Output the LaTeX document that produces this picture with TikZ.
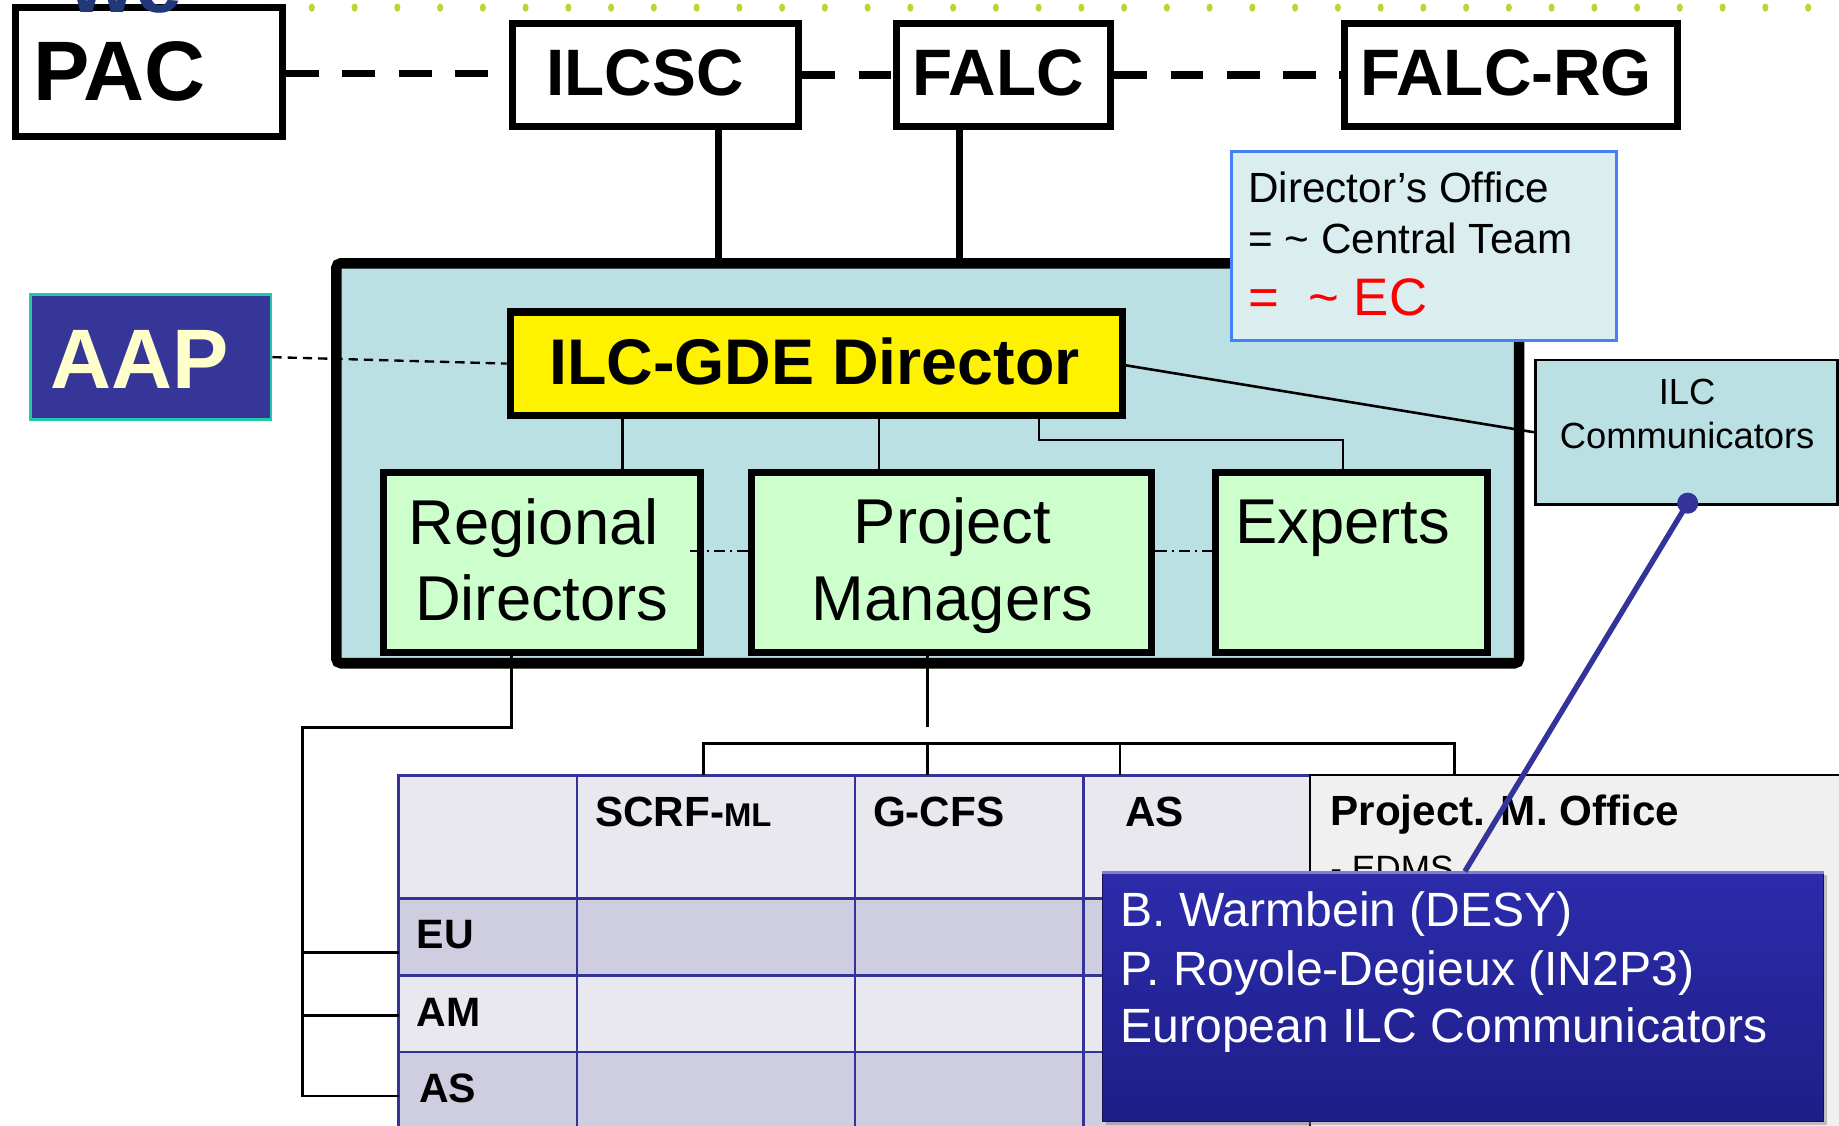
\documentclass[tikz,border=0pt]{standalone}
\usepackage{fontspec}
\setmainfont{Liberation Sans}
\usetikzlibrary{calc,shadows}
\definecolor{bigfill}{RGB}{186,224,227}
\definecolor{dofill}{RGB}{218,238,240}
\definecolor{doborder}{RGB}{70,128,245}
\definecolor{aapfill}{RGB}{54,54,153}
\definecolor{aapborder}{RGB}{34,201,166}
\definecolor{aaptext}{RGB}{255,255,204}
\definecolor{greenfill}{RGB}{204,255,204}
\definecolor{rowA}{RGB}{232,232,238}
\definecolor{rowB}{RGB}{207,205,224}
\definecolor{gridblue}{RGB}{51,51,153}
\definecolor{pmofill}{RGB}{240,240,240}
\definecolor{bluetop}{RGB}{44,44,172}
\definecolor{bluebot}{RGB}{30,30,136}
\definecolor{linkblue}{RGB}{51,51,153}
\definecolor{dotgreen}{RGB}{188,214,49}
\definecolor{titlenavy}{RGB}{32,56,120}
\definecolor{ecred}{RGB}{255,0,0}
\newcommand{\setfs}[1]{\fontsize{#1}{#1}\selectfont}
\begin{document}
\begin{tikzpicture}[x=0.5pt,y=-0.5pt,
  topbox/.style={draw=black,line width=3pt,fill=white,inner sep=0pt},
  topdash/.style={line width=3.2pt,dash pattern=on 14pt off 10pt},
  toptext/.style={font=\setfs{28}\bfseries,inner sep=0pt,anchor=base},
  greenbox/.style={draw=black,line width=3pt,fill=greenfill,inner sep=0pt},
  greentext/.style={font=\setfs{27},inner sep=0pt,anchor=base},
  conn/.style={line width=1.1pt},
  dashdot/.style={line width=0.9pt,dash pattern=on 5pt off 2pt on 1pt off 2pt},
  hdr/.style={font=\setfs{18}\bfseries,inner sep=0pt,anchor=base west},
  gridline/.style={draw=gridblue,line width=1.2pt},
  dotext/.style={font=\setfs{18},inner sep=0pt,anchor=base west},
  whitetext/.style={font=\setfs{20.5},text=white,inner sep=0pt,anchor=base west},
  comtext/.style={font=\setfs{15.5},inner sep=0pt,anchor=base}
]
\useasboundingbox (0,0) rectangle (1568,960);
\fill[white] (0,0) rectangle (1568,960);

% green dots
\foreach \i in {0,...,37}{
  \fill[dotgreen] ({193+36.45*\i},6.5) ellipse [x radius=1.3pt, y radius=1.75pt];
}

% top boxes
\node[topbox,minimum width=113.75pt,minimum height=55.25pt] (pac) at (127.25,61.25) {};
\node[topbox,minimum width=122pt,minimum height=44pt] (ilcsc) at (559,64) {};
\node[topbox,minimum width=91.5pt,minimum height=44pt] (falc) at (855.5,64) {};
\node[topbox,minimum width=141.75pt,minimum height=44pt] (falcrg) at (1288.25,64) {};
\node[font=\setfs{36}\bfseries,inner sep=0pt,anchor=base west] (pact) at (28.5,86) {PAC};
\node[toptext] (ilcsct) at (550,81) {ILCSC};
\node[toptext] (falct) at (851,81) {FALC};
\node[toptext] (falcrgt) at (1284,81) {FALC-RG};

\coordinate (ytop) at (0,62.5);
\draw[topdash] (pac.east |- ytop) -- (ilcsc.west |- ytop);
\draw[topdash] (ilcsc.east) -- (falc.west);
\draw[topdash] (falc.east) -- (falcrg.west);

% big box
\node[draw=black,line width=4.5pt,fill=bigfill,rounded corners=2pt,minimum width=504.25pt,minimum height=170.5pt,inner sep=0pt] (gde) at (791,395) {};
\coordinate (xa) at (612.5,0);
\coordinate (xb) at (818,0);
\draw[line width=3pt] (ilcsc.south -| xa) -- (gde.north -| xa);
\draw[line width=3pt] (falc.south -| xb) -- (gde.north -| xb);

% director's office
\node[draw=doborder,line width=1.3pt,fill=dofill,minimum width=164pt,minimum height=80.5pt,inner sep=0pt] (doff) at (1214,209.5) {};
\node[dotext] (do1) at (1064,173) {Director’s Office};
\node[dotext] (do2) at (1064,216) {= \textasciitilde{} Central Team};
\node[dotext,font=\setfs{22.5},text=ecred] (do3) at (1064,269) {=\ \ \textasciitilde\ EC};

% AAP
\node[draw=aapborder,line width=1.2pt,fill=aapfill,minimum width=102.5pt,minimum height=53.5pt,inner sep=0pt] (aap) at (128.5,304.5) {};
\node[font=\setfs{36}\bfseries,text=aaptext,inner sep=0pt,anchor=base] (aapt) at (119,331) {AAP};

% director
\node[draw=black,line width=3pt,fill=yellow,minimum width=261pt,minimum height=44pt,inner sep=0pt] (dir) at (696,310) {};
\node[toptext,font=\setfs{27.5}\bfseries] (dirt) at (694.5,328) {ILC-GDE Director};
\draw[line width=1pt,dash pattern=on 4pt off 2.5pt] (aap.east) -- (dir.west);

% green boxes
\node[greenbox,minimum width=135.25pt,minimum height=76.5pt] (reg) at (462.25,479.5) {};
\node[greenbox,minimum width=170.75pt,minimum height=76.5pt] (pm) at (811.25,479.5) {};
\node[greenbox,minimum width=115.75pt,minimum height=76.5pt] (exp) at (1152.25,479.5) {};
\node[greentext] (reg1) at (455,464) {Regional};
\node[greentext] (reg2) at (462,529) {Directors};
\node[greentext] (pm1) at (812,463) {Project};
\node[greentext] (pm2) at (812,529) {Managers};
\node[greentext] (exp1) at (1145,463) {Experts};

\coordinate (ydd) at (0,470);
\coordinate (dd1) at ([xshift=-6pt]reg.east);
\draw[dashdot] (dd1 |- ydd) -- (pm.west |- ydd);
\draw[dashdot] (pm.east |- ydd) -- (exp.west |- ydd);

\coordinate (xr0) at (531,0);
\coordinate (xp0) at (749.5,0);
\coordinate (e1) at (886,375);
\coordinate (e2) at (1145,375);
\draw[conn] (dir.south -| xr0) -- (reg.north -| xr0);
\draw[conn] (dir.south -| xp0) -- (pm.north -| xp0);
\draw[conn] (dir.south -| e1) -- (e1) -- (e2) -- (exp.north -| e2);

% ILC communicators
\node[draw=black,line width=1.2pt,fill=bigfill,minimum width=129pt,minimum height=61.5pt,inner sep=0pt] (ilccom) at (1438,368.5) {};
\node[comtext] (ilccom1) at (1438.5,344.5) {ILC};
\node[comtext] (ilccom2) at (1438.5,382) {Communicators};
\coordinate (dirr) at (957,311);
\draw[line width=1.1pt] (dirr) -- (ilccom.west);

% table
\fill[rowA] (340,661) rectangle (1117,766);
\fill[rowB] (340,766) rectangle (1117,831.5);
\fill[rowA] (340,831.5) rectangle (1117,897);
\fill[rowB] (340,897) rectangle (1117,970);
\draw[gridline] (340,970) -- (340,661) -- (1117,661);
\foreach \yy in {766,831.5,897}{\draw[gridline] (340,\yy) -- (1117,\yy);}
\foreach \xx in {492,729,924}{\draw[gridline] (\xx,661) -- (\xx,970);}
\draw[line width=1pt,fill=pmofill] (1117,975) -- (1117,661) -- (1580,661) -- (1580,975);

\node[hdr] (h1) at (507,705) {SCRF-{\setfs{14}ML}};
\node[hdr] (h2) at (744,705) {G-CFS};
\node[hdr] (h3) at (959,705) {AS};
\node[hdr] (h4) at (1134,704) {Project. M. Office};
\node[font=\setfs{15},inner sep=0pt,anchor=base west] (h5) at (1134,750.5) {- EDMS};
\node[hdr,font=\setfs{17.5}\bfseries] (r1) at (355,809) {EU};
\node[hdr,font=\setfs{17.5}\bfseries] (r2) at (355,875) {AM};
\node[hdr,font=\setfs{17.5}\bfseries] (r3) at (357,940) {AS};

% regional connectors
\coordinate (rbend) at (436,620.5);
\coordinate (rleft) at (258,620.5);
\coordinate (euin) at (340,812);
\coordinate (amin) at (340,866);
\coordinate (asin) at (340,934.5);
\draw[conn] (reg.south -| rbend) -- (rbend) -- (rleft) -- (rleft |- asin) -- (asin);
\draw[conn] (rleft |- euin) -- (euin);
\draw[conn] (rleft |- amin) -- (amin);

% project connectors
\coordinate (pbend) at (791,620);
\coordinate (ttop) at (0,661);
\coordinate (b1) at (600,634);
\coordinate (b2) at (791,634);
\coordinate (b3) at (955,634);
\coordinate (b4) at (1240,634);
\draw[conn] (pm.south -| pbend) -- (pbend);
\draw[conn] (b1 |- ttop) -- (b1) -- (b4) -- (b4 |- ttop);
\draw[conn] (b2) -- (b2 |- ttop);
\draw[conn] (b3) -- (b3 |- ttop);

% blue box
\node[top color=bluetop,bottom color=bluebot,draw=bluebot!60!black,line width=0.6pt,
      minimum width=307.5pt,minimum height=106.5pt,inner sep=0pt,
      drop shadow={shadow xshift=1.5pt,shadow yshift=-1.5pt,opacity=0.45}] (bb) at (1247.5,849.5) {};
\draw[color=bluetop!60!white,line width=1.2pt] ([yshift=-0.8pt]bb.north west) -- ([yshift=-0.8pt]bb.north east);
\node[whitetext] (bb1) at (955,790) {B. Warmbein (DESY)};
\node[whitetext] (bb2) at (955,840) {P. Royole-Degieux (IN2P3)};
\node[whitetext] (bb3) at (955,889) {European ILC Communicators};

% link line
\node[circle,fill=linkblue,inner sep=0pt,minimum size=9pt] (bdot) at (1439,429) {};
\coordinate (bbtop) at (1249,743);
\draw[linkblue,line width=2.3pt] (bdot.center) -- (bbtop);

% title remnant (cut off at the top edge, as in the reference)
\node[font=\setfs{36}\bfseries,text=titlenavy,inner sep=0pt,anchor=base west] (ttl) at (59,11) {we};
\end{tikzpicture}
\end{document}
